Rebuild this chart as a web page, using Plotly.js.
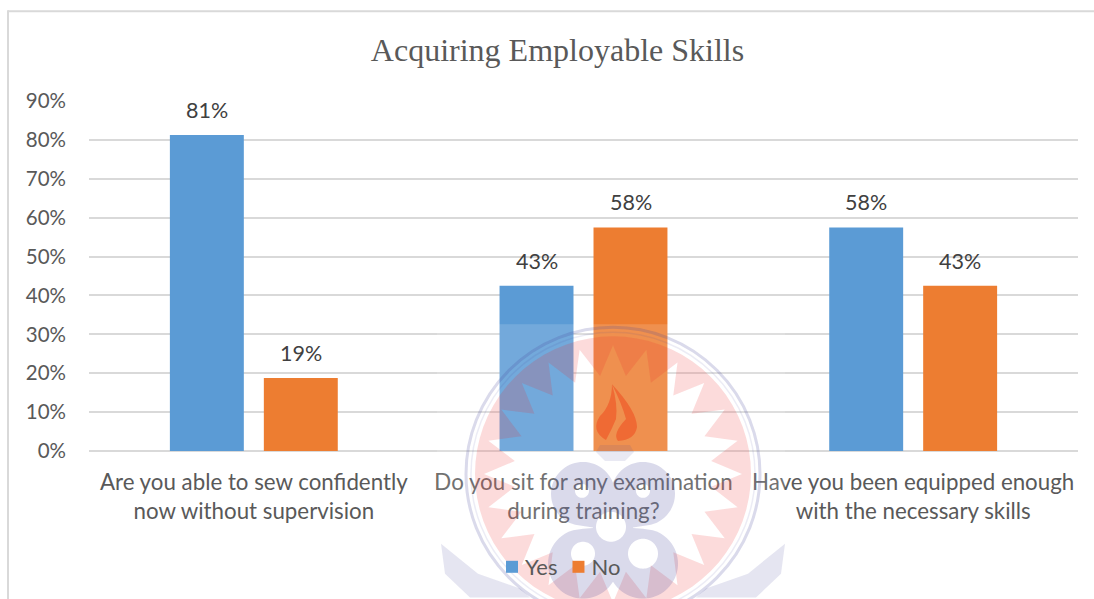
<!DOCTYPE html>
<html><head><meta charset="utf-8">
<script src="https://cdn.plot.ly/plotly-3.0.1.min.js"></script>
<style>html,body{margin:0;padding:0;background:#fff}#c{width:1094px;height:599px}</style>
</head><body><div id="c"></div>
<script>
const categories = ["Are you able to sew confidently<br>now without supervision","Do you sit for any examination<br>during training?","Have you been equipped enough<br>with the necessary skills"];
const yesValues = [81.25, 42.5, 57.5];
const noValues = [18.75, 57.5, 42.5];
const yesLabels = ["81%","43%","58%"];
const noLabels = ["19%","58%","43%"];
const yTicks = [0,10,20,30,40,50,60,70,80,90];
const yTickLabels = yTicks.map(v => v + "%");

const FONT = "Lato, Carlito, sans-serif";
const L = 89, R = 1078, T = 101, B = 452;
const W = 1094, H = 599;
const px = x => (x - L) / (R - L);
const py = y => (B - y) / (B - T);

function poly(pts) {
  return 'M' + pts.map(p => px(p[0]).toFixed(5) + ',' + py(p[1]).toFixed(5)).join('L') + 'Z';
}
function circPts(cx, cy, r, rev) {
  const out = [], n = 72;
  for (let i = 0; i < n; i++) {
    const a = (rev ? -1 : 1) * i / n * 2 * Math.PI;
    out.push([cx + r * Math.cos(a), cy + r * Math.sin(a)]);
  }
  return out;
}
function starPts(cx, cy, rt, rv, n) {
  const out = [];
  for (let i = 0; i < 2 * n; i++) {
    const a = -i / (2 * n) * 2 * Math.PI;
    const r = i % 2 ? rv : rt;
    out.push([cx + r * Math.cos(a), cy + r * Math.sin(a)]);
  }
  return out;
}
// outline of several overlapping discs, seen from one inner point
function blobOutline(cx, cy, discs) {
  const out = [], n = 180;
  for (let i = 0; i < n; i++) {
    const a = i / n * 2 * Math.PI, ux = Math.cos(a), uy = Math.sin(a);
    let best = 20;
    discs.forEach(d => {
      const ox = d[0] - cx, oy = d[1] - cy, b = ox * ux + oy * uy;
      const q = b * b - (ox * ox + oy * oy - d[2] * d[2]);
      if (q >= 0) best = Math.max(best, b + Math.sqrt(q));
    });
    out.push([cx + best * ux, cy + best * uy]);
  }
  return out;
}
function shapePath(d, fill) {
  return {type:'path', xref:'paper', yref:'paper', layer:'above', path:d, fillcolor:fill, line:{width:0}};
}
function ring(cx, cy, r, color, w) {
  return {type:'circle', xref:'paper', yref:'paper', layer:'above',
    x0:px(cx-r), x1:px(cx+r), y0:py(cy+r), y1:py(cy-r),
    fillcolor:'rgba(0,0,0,0)', line:{color:color, width:w}};
}
function flame(points) {
  const p = (x,y) => px(x).toFixed(5)+','+py(y).toFixed(5);
  return 'M'+p(points[0][0],points[0][1])+points.slice(1).map(s => 'Q'+p(s[0],s[1])+' '+p(s[2],s[3])).join('')+'Z';
}
const CX = 613, CY = 475;
const LAV = 'rgba(70,70,155,0.2)', PINK = 'rgba(240,40,40,0.17)';
const emblemDiscs = [[583,495,32],[643,495,32],[583,565,35],[643,565,35]];
const watermark = [
  shapePath(poly([[437,325],[785,325],[785,599],[437,599]]), 'rgba(255,255,255,0.15)'),
  shapePath(poly(circPts(CX,CY,138,false)) + poly(starPts(CX,CY,129,99,24)), PINK),
  ring(CX,CY,147,LAV,3),
  ring(CX,CY,142,'rgba(70,70,155,0.1)',1.5),
  shapePath(flame([[612,385],[637,412,637,428],[635,441,618,442],[612,435,626,420],[622,405,612,385]]), 'rgba(240,60,20,0.45)'),
  shapePath(flame([[612,385],[612,405,600,417],[590,432,606,441],[612,430,616,420],[618,405,612,385]]), 'rgba(240,60,20,0.45)'),
  shapePath(poly([[596,453],[600,446],[630,446],[634,453],[625,462],[605,462]]), 'rgba(70,70,155,0.12)'),
  shapePath(
    poly(blobOutline(613,530,emblemDiscs)) +
    poly(circPts(611,528,15,true)) +
    poly(circPts(582,492,7,true)) + poly(circPts(643,492,7,true)) +
    poly(circPts(583,555,12,true)) + poly(circPts(643,555,15,true)),
    LAV),
  shapePath(poly([[441,545],[478,575],[520,590],[530,599],[470,599],[445,575]]), 'rgba(70,70,155,0.14)'),
  shapePath(poly([[785,545],[748,575],[706,590],[696,599],[756,599],[781,575]]), 'rgba(70,70,155,0.14)')
];
const frame = [
  {type:'line', xref:'paper', yref:'paper', layer:'below', x0:px(8), x1:px(W+2), y0:py(11), y1:py(11), line:{color:'#d9d9d9',width:2}},
  {type:'line', xref:'paper', yref:'paper', layer:'below', x0:px(8), x1:px(8), y0:py(10), y1:py(H+2), line:{color:'#d9d9d9',width:2}}
];

const common = {type:'bar', x:categories, cliponaxis:false, hoverinfo:'none', textposition:'none'};
const traces = [
  Object.assign({}, common, {name:'Yes', y:yesValues, marker:{color:'#5b9bd5'}}),
  Object.assign({}, common, {name:'No', y:noValues, marker:{color:'#ed7d31'}})
];
const OFFSET = 47 / ((R - L) / categories.length);
const labelNote = (lab, i, vals, dx) => ({
  text:lab, x:i + dx, y:vals[i], xref:'x', yref:'y', showarrow:false, yanchor:'bottom', yshift:10,
  font:{family:FONT, size:21.5, color:'#404040'}
});
const annotations = yesLabels.map((l,i) => labelNote(l,i,yesValues,-OFFSET))
  .concat(noLabels.map((l,i) => labelNote(l,i,noValues,OFFSET)));

const layout = {
  width:W, height:H, autosize:false, paper_bgcolor:'#fff', plot_bgcolor:'#fff',
  margin:{l:L, r:W-R, t:T, b:H-B, pad:0},
  showlegend:true, barmode:'group', bargap:0.43, bargroupgap:0.213,
  title:{text:'Acquiring Employable Skills', font:{family:'"Liberation Serif", serif', size:32, color:'#595959'},
    x:557.5/W, xref:'container', xanchor:'center', y:1-50/H, yref:'container', yanchor:'middle'},
  font:{family:FONT, size:20, color:'#595959'},
  xaxis:{type:'category', tickfont:{family:FONT,size:22.3,color:'#595959'}, showgrid:false, ticks:'', ticklen:0,
    showline:false, zeroline:false, automargin:false, ticklabelstandoff:16},
  yaxis:{range:[0,90], tickmode:'array', tickvals:yTicks, ticktext:yTickLabels, tickfont:{family:FONT,size:20.5,color:'#595959'},
    gridcolor:'#d9d9d9', gridwidth:2, zeroline:true, zerolinecolor:'#d9d9d9', zerolinewidth:2, showline:false, ticks:'', automargin:false, ticklabelstandoff:22},
  legend:{orientation:'h', x:(492-L)/(R-L), xanchor:'left', y:(B-546)/(B-T), yanchor:'top',
    font:{family:FONT,size:22,color:'#595959'}, bgcolor:'rgba(0,0,0,0)', traceorder:'normal', itemclick:false},
  shapes: frame.concat(watermark),
  annotations: annotations
};
Plotly.newPlot('c', traces, layout, {displayModeBar:false, staticPlot:true}).then(gd => {
  // tighten legend swatch-to-text gap, as in the reference
  gd.querySelectorAll('.legend .legendtext').forEach(t => t.setAttribute('x', parseFloat(t.getAttribute('x')) - 7));
  const items = gd.querySelectorAll('.legend .traces');
  if (items[1]) {
    const m = /translate\(([-\d.]+)[ ,]+([-\d.]+)\)/.exec(items[1].getAttribute('transform'));
    if (m) items[1].setAttribute('transform', 'translate(' + (parseFloat(m[1]) - 11) + ',' + m[2] + ')');
  }
});
</script></body></html>
